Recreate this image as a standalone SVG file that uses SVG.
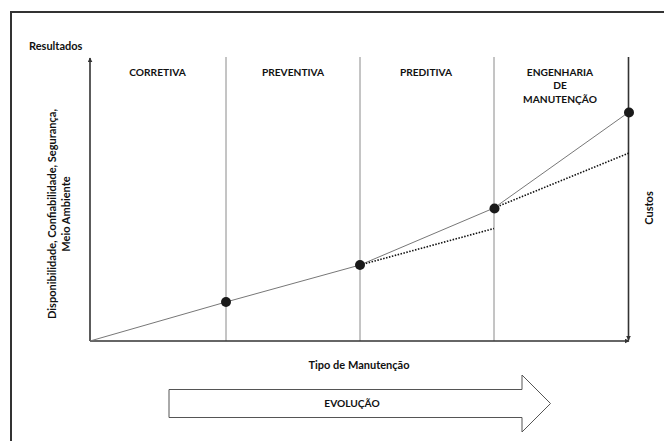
<svg xmlns="http://www.w3.org/2000/svg" width="664" height="441" viewBox="0 0 664 441">
<defs>
<style>
.t{font-family:Lato,"Liberation Sans",Arial,sans-serif;font-weight:bold;font-size:10.2px;fill:#111}
.m{font-size:11px}
.div{stroke:#8a8a8a;stroke-width:1;fill:none}
.axis{stroke:#333;stroke-width:1.6;fill:none}
.curve{stroke:#777;stroke-width:1;fill:none}
.dot{stroke:#111;stroke-width:1.6;stroke-dasharray:1.5 1.5;fill:none}
.pt{fill:#1a1a1a}
</style>
<marker id="ah" viewBox="0 0 8 8" refX="7" refY="4" markerWidth="5" markerHeight="5" orient="auto" markerUnits="userSpaceOnUse">
<path d="M0,0 L8,4 L0,8 Z" fill="#333"/>
</marker>
</defs>
<rect width="664" height="441" fill="#fff"/>
<g id="frame">
<path d="M11,441 V12 H664" stroke="#333" stroke-width="2" fill="none"/>
</g>
<g id="dividers">
<line class="div" x1="226" y1="57" x2="226" y2="341" stroke="#aaa"/>
<line class="div" x1="360" y1="57" x2="360" y2="341"/>
<line class="div" x1="494" y1="57" x2="494" y2="341" stroke="#777"/>
</g>
<g id="connectors">
<line class="axis" x1="90" y1="341" x2="90" y2="58" marker-end="url(#ah)"/>
<line class="axis" x1="90" y1="341" x2="629" y2="341" marker-end="url(#ah)"/>
<line class="axis" x1="628.5" y1="57" x2="628.5" y2="340" stroke-width="2" marker-end="url(#ah)"/>
<polyline class="curve" points="90,341 226,302 360,265 494,208 629,112"/>
<line class="dot" x1="360" y1="265" x2="494" y2="228.5"/>
<line class="dot" x1="494" y1="208" x2="629" y2="153"/>
</g>
<g id="points">
<circle class="pt" cx="226" cy="302" r="5"/>
<circle class="pt" cx="360" cy="265" r="5"/>
<circle class="pt" cx="494.5" cy="208.5" r="5"/>
<circle class="pt" cx="629" cy="112.5" r="5"/>
</g>
<g id="labels">
<text class="t m" x="29" y="49.5">Resultados</text>
<text class="t" x="157.5" y="75.5" text-anchor="middle">CORRETIVA</text>
<text class="t" x="293" y="75.5" text-anchor="middle">PREVENTIVA</text>
<text class="t" x="426" y="75.5" text-anchor="middle">PREDITIVA</text>
<text class="t" x="560" y="75.5" text-anchor="middle">ENGENHARIA</text>
<text class="t" x="560" y="89" text-anchor="middle">DE</text>
<text class="t" x="560" y="103" text-anchor="middle">MANUTENÇÃO</text>
<text class="t m" transform="translate(56,214) rotate(-90)" text-anchor="middle">Disponibilidade, Confiabilidade, Segurança,</text>
<text class="t m" transform="translate(69.5,214) rotate(-90)" text-anchor="middle">Meio Ambiente</text>
<text class="t m" transform="translate(652.5,208) rotate(-90)" text-anchor="middle">Custos</text>
<text class="t m" x="359" y="369" text-anchor="middle">Tipo de Manutenção</text>
</g>
<g id="evolucao">
<polygon points="169,389.5 522,389.5 522,375 550.5,403.5 522,432 522,417.5 169,417.5" fill="#fff" stroke="#555" stroke-width="1"/>
<text class="t" x="352" y="407" text-anchor="middle">EVOLUÇÃO</text>
</g>
</svg>
